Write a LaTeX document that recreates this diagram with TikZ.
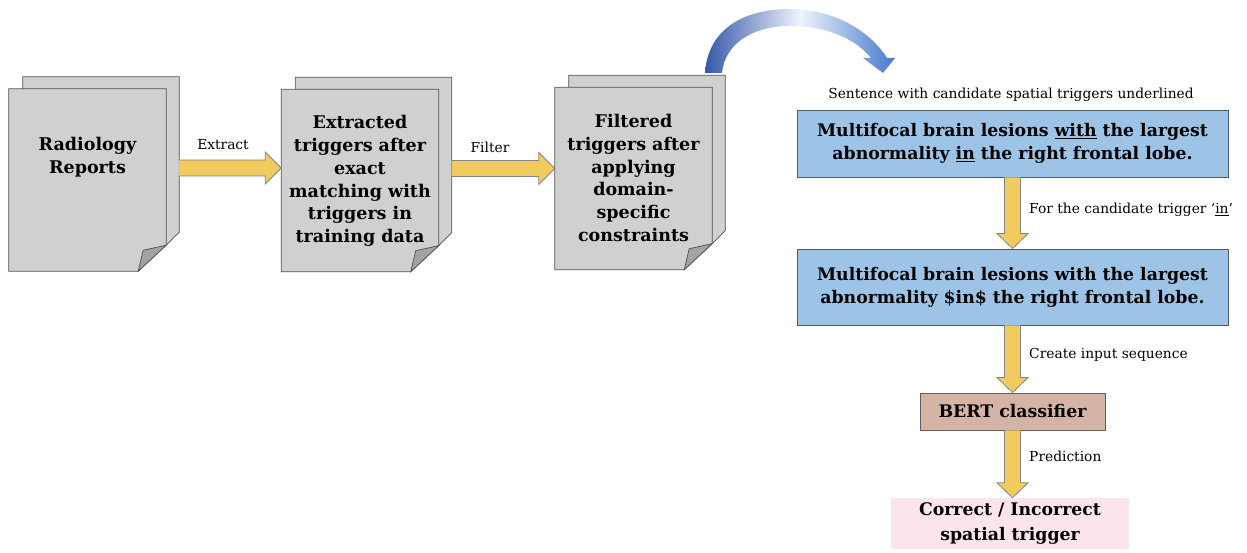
\documentclass[tikz,border=0pt]{standalone}
\usepackage{fontspec}
\setmainfont{DejaVu Serif}
\usetikzlibrary{calc}

\definecolor{sheetfill}{HTML}{D0D0D0}
\definecolor{sheetedge}{HTML}{505050}
\definecolor{flapfill}{HTML}{A3A3A3}
\definecolor{arrowfill}{HTML}{F1CB5D}
\definecolor{arrowedge}{HTML}{858585}
\definecolor{sentfill}{HTML}{9DC3E6}
\definecolor{sentedge}{HTML}{4F5A66}
\definecolor{bertfill}{HTML}{D5B3A5}
\definecolor{bertedge}{HTML}{6B5A55}
\definecolor{resfill}{HTML}{FCE4EC}
\definecolor{curvedark}{RGB}{52,88,168}
\definecolor{curvelight}{RGB}{240,244,252}
\definecolor{curvemid}{RGB}{70,120,205}

\tikzset{
  pagearea/.style={minimum width=157pt, minimum height=182pt, inner sep=0pt},
  sheetline/.style={draw=sheetedge, fill=sheetfill, line width=0.8pt, line join=miter},
  flap/.style={draw=sheetedge, fill=flapfill, line width=0.7pt},
  doctext/.style={font=\bfseries\fontsize{17.5}{22.8}\selectfont, align=center, inner sep=0pt},
  lbl/.style={font=\fontsize{13.8}{16}\selectfont, inner sep=0pt},
  arrowbody/.style={fill=arrowfill},
  arrowline/.style={draw=arrowedge, line width=0.8pt, line join=miter},
  sentbox/.style={draw=sentedge, fill=sentfill, line width=0.8pt, minimum width=431pt,
    align=center, font=\bfseries\fontsize{17.3}{23}\selectfont, inner sep=0pt},
  bertbox/.style={draw=bertedge, fill=bertfill, line width=0.8pt, minimum width=185pt,
    minimum height=37pt, font=\bfseries\fontsize{17.3}{20}\selectfont, inner sep=0pt},
  resbox/.style={fill=resfill, minimum width=238pt, minimum height=51pt, align=center,
    font=\bfseries\fontsize{17.3}{25}\selectfont, inner sep=0pt},
}

% stacked sheets with a curled lower-right corner, drawn round a page node
\newcommand{\sheets}[1]{%
  \draw[sheetline] ($(#1.north west)+(14,-12)$) -- ($(#1.north east)+(13,-12)$)
    -- ($(#1.south east)+(13,-39)$) -- ($(#1.south east)+(0,-26)$)
    -- ($(#1.south west)+(14,-26)$) -- cycle;
  \draw[sheetline] (#1.north west) -- (#1.north east) -- ($(#1.south east)+(0,-26)$)
    -- ($(#1.south east)+(-28,0)$) -- (#1.south west) -- cycle;
  \draw[flap] ($(#1.south east)+(-28,0)$) -- ($(#1.south east)+(-23,-21)$)
    -- ($(#1.south east)+(0,-26)$) -- cycle;
}

% horizontal block arrow from #1 to the x of #2
\newcommand{\harrow}[2]{%
  \fill[arrowbody] let \p1=(#1), \p2=(#2) in
    ({\x1},{\y1+8pt}) -- ({\x2-16pt},{\y1+8pt}) -- ({\x2-16pt},{\y1+16pt}) -- ({\x2},{\y1})
    -- ({\x2-16pt},{\y1-16pt}) -- ({\x2-16pt},{\y1-8pt}) -- ({\x1},{\y1-8pt}) -- cycle;
  \draw[arrowline] let \p1=(#1), \p2=(#2) in
    ({\x1},{\y1+8pt}) -- ({\x2-16pt},{\y1+8pt}) -- ({\x2-16pt},{\y1+16pt}) -- ({\x2},{\y1})
    -- ({\x2-16pt},{\y1-16pt}) -- ({\x2-16pt},{\y1-8pt}) -- ({\x1},{\y1-8pt});
}

% vertical block arrow from #1 down to the y of #2
\newcommand{\varrow}[2]{%
  \fill[arrowbody] let \p1=(#1), \p2=(#2) in
    ({\x1-8pt},{\y1}) -- ({\x1-8pt},{\y2+15pt}) -- ({\x1-15.5pt},{\y2+15pt}) -- ({\x1},{\y2})
    -- ({\x1+15.5pt},{\y2+15pt}) -- ({\x1+8pt},{\y2+15pt}) -- ({\x1+8pt},{\y1}) -- cycle;
  \draw[arrowline] let \p1=(#1), \p2=(#2) in
    ({\x1-8pt},{\y1}) -- ({\x1-8pt},{\y2+15pt}) -- ({\x1-15.5pt},{\y2+15pt}) -- ({\x1},{\y2})
    -- ({\x1+15.5pt},{\y2+15pt}) -- ({\x1+8pt},{\y2+15pt}) -- ({\x1+8pt},{\y1});
}

\begin{document}
\begin{tikzpicture}[x=1pt, y=-1pt]
\useasboundingbox (0,0) rectangle (1247,553);

% page areas of the three document stacks
\node[pagearea] (f1) at (87.5,180) {};
\node[pagearea] (f2) at (360,180.5) {};
\node[pagearea] (f3) at (633.5,178.5) {};
\sheets{f1}
\sheets{f2}
\sheets{f3}

\node[doctext] (t1) at (87.5,157) {Radiology\\Reports};
\node[doctext] (t2) at (360,181) {Extracted\\triggers after\\exact\\matching with\\triggers in\\training data};
\node[doctext] (t3) at (633.5,178) {Filtered\\triggers after\\applying\\domain-\\specific\\constraints};

% connectors between the stacks
\coordinate (a1s) at ($(f1.east)+(13,-12)$);
\coordinate (a2s) at ($(f2.east)+(13,-12)$);
\harrow{a1s}{f2.west}
\harrow{a2s}{f3.west}
\node[lbl] (lx) at (223,145) {Extract};
\node[lbl] (lf) at (490,147) {Filter};

% curved arrow over to the sentence column
\coordinate (ctip) at (883,73);
\path[shading=axis, left color=curvedark, right color=curvemid, middle color=curvelight]
  (705,73) .. controls (708,28) and (745,9) .. (790,9)
  .. controls (830,9) and (868,28) .. (887,58)
  -- (895,58) -- (ctip) -- (863,58) -- (871,58)
  .. controls (855,38) and (825,26) .. (790,26)
  .. controls (755,26) and (725,42) .. (722,73) -- cycle;

% sentence column
\node[lbl] (cap) at (1011,95) {Sentence with candidate spatial triggers underlined};
\node[sentbox, minimum height=67pt] (s1) at (1012.5,143.5)
  {Multifocal brain lesions \underline{with} the largest\\abnormality \underline{in} the right frontal lobe.};
\node[sentbox, minimum height=76pt] (s2) at (1012.5,287)
  {Multifocal brain lesions with the largest\\abnormality \$in\$ the right frontal lobe.};
\node[bertbox] (bert) at (1012.5,411.5) {BERT classifier};
\node[resbox] (res) at (1010,523.5) {Correct / Incorrect\\spatial trigger};

\varrow{s1.south}{s2.north}
\varrow{s2.south}{bert.north}
\varrow{bert.south}{res.north}

\node[lbl, anchor=west] (l1) at (1029,210) {For the candidate trigger ‘\underline{in}’};
\node[lbl, anchor=west] (l2) at (1029,355) {Create input sequence};
\node[lbl, anchor=west] (l3) at (1029,456) {Prediction};
\end{tikzpicture}
\end{document}
